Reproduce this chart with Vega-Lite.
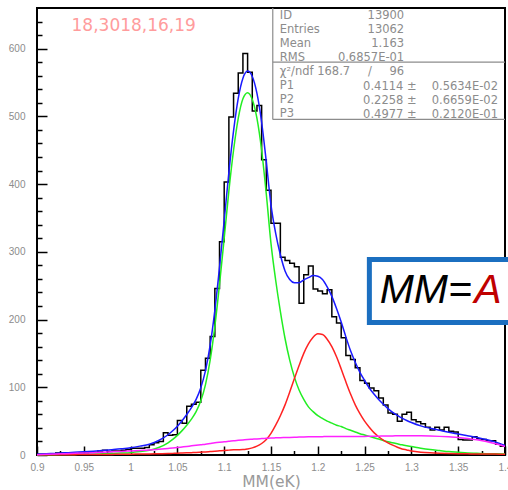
{
  "$schema": "https://vega.github.io/schema/vega-lite/v6.json",
  "width": 468,
  "height": 447,
  "autosize": {"type": "none"},
  "padding": {"left": 37, "top": 8, "right": 3, "bottom": 35},
  "background": "white",
  "config": {
    "view": {"stroke": "#000000", "strokeWidth": 2},
    "axis": {"grid": false, "domain": false, "tickColor": "#000000", "tickWidth": 1.5, "labelColor": "#8c8c8c", "labelFont": "Liberation Sans", "labelFontSize": 10, "labelOverlap": false, "labelFlush": false, "titleColor": "#9a9a9a", "titleFont": "DejaVu Sans", "titleFontWeight": "normal", "titleFontSize": 15.5}
  },
  "datasets": {
    "hist": [
      {"x": 0.9, "n": 1}, {"x": 0.905, "n": 1}, {"x": 0.91, "n": 0}, {"x": 0.915, "n": 2}, {"x": 0.92, "n": 3},
      {"x": 0.925, "n": 3}, {"x": 0.93, "n": 1}, {"x": 0.935, "n": 2}, {"x": 0.94, "n": 2}, {"x": 0.945, "n": 3},
      {"x": 0.95, "n": 3}, {"x": 0.955, "n": 4}, {"x": 0.96, "n": 4}, {"x": 0.965, "n": 6}, {"x": 0.97, "n": 7},
      {"x": 0.975, "n": 5}, {"x": 0.98, "n": 6}, {"x": 0.985, "n": 6}, {"x": 0.99, "n": 7}, {"x": 0.995, "n": 8},
      {"x": 1.0, "n": 10}, {"x": 1.005, "n": 10}, {"x": 1.01, "n": 10}, {"x": 1.015, "n": 11}, {"x": 1.02, "n": 15},
      {"x": 1.025, "n": 18}, {"x": 1.03, "n": 20}, {"x": 1.035, "n": 33}, {"x": 1.04, "n": 29}, {"x": 1.045, "n": 30},
      {"x": 1.05, "n": 51}, {"x": 1.055, "n": 47}, {"x": 1.06, "n": 72}, {"x": 1.065, "n": 75}, {"x": 1.07, "n": 78},
      {"x": 1.075, "n": 125}, {"x": 1.08, "n": 143}, {"x": 1.085, "n": 175}, {"x": 1.09, "n": 246}, {"x": 1.095, "n": 315},
      {"x": 1.1, "n": 403}, {"x": 1.105, "n": 499}, {"x": 1.11, "n": 534}, {"x": 1.115, "n": 564}, {"x": 1.12, "n": 593},
      {"x": 1.125, "n": 565}, {"x": 1.13, "n": 508}, {"x": 1.135, "n": 516}, {"x": 1.14, "n": 436}, {"x": 1.145, "n": 391},
      {"x": 1.15, "n": 342}, {"x": 1.155, "n": 342}, {"x": 1.16, "n": 292}, {"x": 1.165, "n": 287}, {"x": 1.17, "n": 283},
      {"x": 1.175, "n": 278}, {"x": 1.18, "n": 224}, {"x": 1.185, "n": 266}, {"x": 1.19, "n": 279}, {"x": 1.195, "n": 245},
      {"x": 1.2, "n": 242}, {"x": 1.205, "n": 238}, {"x": 1.21, "n": 244}, {"x": 1.215, "n": 204}, {"x": 1.22, "n": 195},
      {"x": 1.225, "n": 173}, {"x": 1.23, "n": 147}, {"x": 1.235, "n": 141}, {"x": 1.24, "n": 129}, {"x": 1.245, "n": 110},
      {"x": 1.25, "n": 106}, {"x": 1.255, "n": 99}, {"x": 1.26, "n": 95}, {"x": 1.265, "n": 84}, {"x": 1.27, "n": 74},
      {"x": 1.275, "n": 62}, {"x": 1.28, "n": 60}, {"x": 1.285, "n": 50}, {"x": 1.29, "n": 60}, {"x": 1.295, "n": 63},
      {"x": 1.3, "n": 52}, {"x": 1.305, "n": 49}, {"x": 1.31, "n": 46}, {"x": 1.315, "n": 41}, {"x": 1.32, "n": 37},
      {"x": 1.325, "n": 41}, {"x": 1.33, "n": 37}, {"x": 1.335, "n": 41}, {"x": 1.34, "n": 35}, {"x": 1.345, "n": 34},
      {"x": 1.35, "n": 23}, {"x": 1.355, "n": 22}, {"x": 1.36, "n": 22}, {"x": 1.365, "n": 27}, {"x": 1.37, "n": 24},
      {"x": 1.375, "n": 23}, {"x": 1.38, "n": 21}, {"x": 1.385, "n": 21}, {"x": 1.39, "n": 16}, {"x": 1.395, "n": 13},
      {"x": 1.4, "n": 13}
    ],
    "fit": [
      {"x": 0.90, "g": 0.3, "r": 0.3, "m": 0.5, "b": 1.1},
      {"x": 0.91, "g": 0.4, "r": 0.35, "m": 1, "b": 1.8},
      {"x": 0.92, "g": 0.5, "r": 0.4, "m": 1.5, "b": 2.4},
      {"x": 0.93, "g": 0.7, "r": 0.5, "m": 2, "b": 3.2},
      {"x": 0.94, "g": 0.9, "r": 0.55, "m": 2.5, "b": 4},
      {"x": 0.95, "g": 1.1, "r": 0.6, "m": 3, "b": 4.7},
      {"x": 0.96, "g": 1.4, "r": 0.7, "m": 3.5, "b": 5.6},
      {"x": 0.97, "g": 1.8, "r": 0.8, "m": 4, "b": 6.6},
      {"x": 0.98, "g": 2.2, "r": 0.9, "m": 4.7, "b": 7.8},
      {"x": 0.99, "g": 2.8, "r": 1, "m": 5.3, "b": 9.1},
      {"x": 1.00, "g": 3.5, "r": 1.2, "m": 6, "b": 10.7},
      {"x": 1.01, "g": 5, "r": 1.4, "m": 6.7, "b": 13.1},
      {"x": 1.02, "g": 7, "r": 1.6, "m": 7.4, "b": 16},
      {"x": 1.03, "g": 11, "r": 1.9, "m": 8.5, "b": 21.4},
      {"x": 1.04, "g": 18, "r": 2.2, "m": 9.7, "b": 29.9},
      {"x": 1.045, "g": 23, "r": 2.4, "m": 10.3, "b": 35.7},
      {"x": 1.05, "g": 29, "r": 2.6, "m": 11, "b": 42.6},
      {"x": 1.055, "g": 36, "r": 2.9, "m": 11.8, "b": 50.7},
      {"x": 1.06, "g": 44, "r": 3.2, "m": 12.6, "b": 59.8},
      {"x": 1.065, "g": 53, "r": 3.5, "m": 13.5, "b": 70},
      {"x": 1.07, "g": 64, "r": 3.8, "m": 14.3, "b": 82.1},
      {"x": 1.075, "g": 80, "r": 4.2, "m": 15.2, "b": 99.4},
      {"x": 1.08, "g": 104, "r": 4.6, "m": 16, "b": 124.6},
      {"x": 1.085, "g": 140, "r": 5.1, "m": 17, "b": 162.1},
      {"x": 1.09, "g": 190, "r": 5.6, "m": 18, "b": 213.6},
      {"x": 1.095, "g": 252, "r": 6.2, "m": 18.8, "b": 277},
      {"x": 1.10, "g": 320, "r": 6.8, "m": 19.5, "b": 346.3},
      {"x": 1.105, "g": 390, "r": 7.2, "m": 20.2, "b": 417.4},
      {"x": 1.11, "g": 450, "r": 7.6, "m": 21, "b": 478.6},
      {"x": 1.115, "g": 497, "r": 7.8, "m": 21.6, "b": 526.4},
      {"x": 1.12, "g": 526, "r": 8, "m": 22.2, "b": 556.2},
      {"x": 1.125, "g": 535, "r": 9, "m": 22.8, "b": 566.8},
      {"x": 1.13, "g": 525, "r": 10.5, "m": 23.3, "b": 558.8},
      {"x": 1.135, "g": 497, "r": 13, "m": 23.8, "b": 533.8},
      {"x": 1.14, "g": 450, "r": 17, "m": 24.2, "b": 491.2},
      {"x": 1.145, "g": 385, "r": 23, "m": 24.6, "b": 432.6},
      {"x": 1.15, "g": 312, "r": 32, "m": 25, "b": 369},
      {"x": 1.155, "g": 258, "r": 44, "m": 25.3, "b": 327.3},
      {"x": 1.16, "g": 212, "r": 58, "m": 25.6, "b": 295.6},
      {"x": 1.165, "g": 172, "r": 74, "m": 25.8, "b": 271.8},
      {"x": 1.17, "g": 140, "r": 93, "m": 26, "b": 259},
      {"x": 1.175, "g": 115, "r": 113, "m": 26.2, "b": 254.2},
      {"x": 1.18, "g": 96, "r": 132, "m": 26.4, "b": 254.4},
      {"x": 1.185, "g": 82, "r": 150, "m": 26.6, "b": 258.6},
      {"x": 1.19, "g": 71, "r": 164, "m": 26.8, "b": 261.8},
      {"x": 1.195, "g": 64, "r": 174, "m": 27, "b": 265},
      {"x": 1.20, "g": 58, "r": 179, "m": 27, "b": 264},
      {"x": 1.205, "g": 54, "r": 178, "m": 27.1, "b": 259.1},
      {"x": 1.21, "g": 50, "r": 171, "m": 27.2, "b": 248.2},
      {"x": 1.215, "g": 47, "r": 160, "m": 27.2, "b": 234.2},
      {"x": 1.22, "g": 44, "r": 145, "m": 27.3, "b": 216.3},
      {"x": 1.225, "g": 42, "r": 127, "m": 27.3, "b": 196.3},
      {"x": 1.23, "g": 39, "r": 108, "m": 27.4, "b": 174.4},
      {"x": 1.235, "g": 36.5, "r": 90, "m": 27.4, "b": 153.9},
      {"x": 1.24, "g": 34, "r": 74, "m": 27.5, "b": 137},
      {"x": 1.245, "g": 31.5, "r": 61, "m": 27.5, "b": 122},
      {"x": 1.25, "g": 29.5, "r": 50, "m": 27.5, "b": 110},
      {"x": 1.255, "g": 27.5, "r": 41, "m": 27.6, "b": 99},
      {"x": 1.26, "g": 25.5, "r": 33, "m": 27.7, "b": 90},
      {"x": 1.265, "g": 23.5, "r": 27, "m": 27.8, "b": 82},
      {"x": 1.27, "g": 21.5, "r": 22, "m": 28, "b": 75},
      {"x": 1.275, "g": 19.5, "r": 18, "m": 28.1, "b": 68.5},
      {"x": 1.28, "g": 18, "r": 14.5, "m": 28.2, "b": 63},
      {"x": 1.285, "g": 16.5, "r": 11.5, "m": 28.3, "b": 58.5},
      {"x": 1.29, "g": 15, "r": 9, "m": 28.4, "b": 54.5},
      {"x": 1.295, "g": 13.7, "r": 7.5, "m": 28.5, "b": 51},
      {"x": 1.30, "g": 12.5, "r": 6, "m": 28.5, "b": 48},
      {"x": 1.31, "g": 10, "r": 4.2, "m": 28.3, "b": 43},
      {"x": 1.32, "g": 8, "r": 3.2, "m": 28, "b": 39.5},
      {"x": 1.33, "g": 6.5, "r": 2.6, "m": 27.5, "b": 36.5},
      {"x": 1.34, "g": 5, "r": 2.2, "m": 26.8, "b": 33.5},
      {"x": 1.35, "g": 4, "r": 1.9, "m": 26, "b": 31},
      {"x": 1.36, "g": 3, "r": 1.7, "m": 24.5, "b": 28.5},
      {"x": 1.37, "g": 2.5, "r": 1.5, "m": 22.5, "b": 26},
      {"x": 1.38, "g": 2, "r": 1.4, "m": 20, "b": 23},
      {"x": 1.39, "g": 1.7, "r": 1.3, "m": 16.5, "b": 19},
      {"x": 1.40, "g": 1.5, "r": 1.2, "m": 12.5, "b": 14}
    ]
  },
  "layer": [
    {
      "data": {"name": "hist"},
      "mark": {"type": "line", "interpolate": "step-after", "color": "#000000", "strokeWidth": 1.5},
      "encoding": {
        "x": {"field": "x", "type": "quantitative", "scale": {"domain": [0.9, 1.4], "nice": false, "zero": false},
          "axis": {"orient": "bottom", "values": [0.9, 0.95, 1.0, 1.05, 1.1, 1.15, 1.2, 1.25, 1.3, 1.35, 1.4], "tickSize": -9, "labelPadding": 16, "format": "~g", "title": "MM(eK)", "titlePadding": 2}},
        "y": {"field": "n", "type": "quantitative", "scale": {"domain": [0, 660], "nice": false, "zero": true},
          "axis": {"orient": "left", "values": [0, 100, 200, 300, 400, 500, 600], "tickSize": -10, "labelPadding": 22, "title": null}}
      }
    },
    {
      "data": {"name": "fit"},
      "mark": {"type": "line", "interpolate": "monotone", "color": "#1a1aff", "strokeWidth": 1.5},
      "encoding": {
        "x": {"field": "x", "type": "quantitative",
          "axis": {"orient": "bottom", "values": [0.925, 0.975, 1.025, 1.075, 1.125, 1.175, 1.225, 1.275, 1.325, 1.375], "tickSize": -4.5, "labels": false, "title": null}},
        "y": {"field": "b", "type": "quantitative",
          "axis": {"orient": "left", "values": [20, 40, 60, 80, 120, 140, 160, 180, 220, 240, 260, 280, 320, 340, 360, 380, 420, 440, 460, 480, 520, 540, 560, 580, 620, 640], "tickSize": -5, "labels": false, "title": null}}
      }
    },
    {
      "data": {"name": "fit"},
      "mark": {"type": "line", "interpolate": "monotone", "color": "#22ee22", "strokeWidth": 1.5},
      "encoding": {
        "x": {"field": "x", "type": "quantitative", "axis": null},
        "y": {"field": "g", "type": "quantitative", "axis": null}
      }
    },
    {
      "data": {"name": "fit"},
      "mark": {"type": "line", "interpolate": "monotone", "color": "#ff2222", "strokeWidth": 1.5},
      "encoding": {
        "x": {"field": "x", "type": "quantitative", "axis": null},
        "y": {"field": "r", "type": "quantitative", "axis": null}
      }
    },
    {
      "data": {"name": "fit"},
      "mark": {"type": "line", "interpolate": "monotone", "color": "#ff22ff", "strokeWidth": 1.5},
      "encoding": {
        "x": {"field": "x", "type": "quantitative", "axis": null},
        "y": {"field": "m", "type": "quantitative", "axis": null}
      }
    },
    {
      "data": {"values": [{}]},
      "mark": {"type": "rect", "fill": "#ffffff"},
      "encoding": {
        "x": {"datum": 1.1519, "type": "quantitative", "axis": null},
        "x2": {"datum": 1.3989},
        "y": {"datum": 495.5, "type": "quantitative", "axis": null},
        "y2": {"datum": 658.5}
      }
    },
    {
      "data": {"values": [{}]},
      "mark": {"type": "rule", "color": "#8c8c8c", "strokeWidth": 1.2},
      "encoding": {
        "x": {"datum": 1.1519, "type": "quantitative", "axis": null},
        "y": {"datum": 495.5, "type": "quantitative", "axis": null},
        "y2": {"datum": 660}
      }
    },
    {
      "data": {"values": [{}]},
      "mark": {"type": "rule", "color": "#8c8c8c", "strokeWidth": 1.2},
      "encoding": {
        "x": {"datum": 1.1519, "type": "quantitative", "axis": null},
        "x2": {"datum": 1.4},
        "y": {"datum": 495.5, "type": "quantitative", "axis": null}
      }
    },
    {
      "data": {"values": [{}]},
      "mark": {"type": "rule", "color": "#8c8c8c", "strokeWidth": 1.2},
      "encoding": {
        "x": {"datum": 1.1519, "type": "quantitative", "axis": null},
        "x2": {"datum": 1.4},
        "y": {"datum": 580, "type": "quantitative", "axis": null}
      }
    },
    {
      "data": {"values": [{}]},
      "mark": {"type": "text", "text": ["ID", "Entries", "Mean", "RMS", "χ²/ndf 168.7", "P1", "P2", "P3"], "align": "left", "baseline": "alphabetic", "lineHeight": 14, "font": "DejaVu Sans", "fontSize": 11.5, "color": "#8c8c8c"},
      "encoding": {
        "x": {"datum": 1.1594, "type": "quantitative", "axis": null},
        "y": {"datum": 643.4, "type": "quantitative", "axis": null}
      }
    },
    {
      "data": {"values": [{}]},
      "mark": {"type": "text", "text": ["13900", "13062", "1.163", "0.6857E-01", "96"], "align": "right", "baseline": "alphabetic", "lineHeight": 14, "font": "DejaVu Sans", "fontSize": 11.5, "color": "#8c8c8c"},
      "encoding": {
        "x": {"datum": 1.2923, "type": "quantitative", "axis": null},
        "y": {"datum": 643.4, "type": "quantitative", "axis": null}
      }
    },
    {
      "data": {"values": [{}]},
      "mark": {"type": "text", "text": "/", "align": "center", "baseline": "alphabetic", "font": "DejaVu Sans", "fontSize": 11.5, "color": "#8c8c8c"},
      "encoding": {
        "x": {"datum": 1.2556, "type": "quantitative", "axis": null},
        "y": {"datum": 561.3, "type": "quantitative", "axis": null}
      }
    },
    {
      "data": {"values": [{}]},
      "mark": {"type": "text", "text": ["0.4114 ±", "0.2258 ±", "0.4977 ±"], "align": "right", "baseline": "alphabetic", "lineHeight": 14, "font": "DejaVu Sans", "fontSize": 11.5, "color": "#8c8c8c"},
      "encoding": {
        "x": {"datum": 1.3056, "type": "quantitative", "axis": null},
        "y": {"datum": 539.1, "type": "quantitative", "axis": null}
      }
    },
    {
      "data": {"values": [{}]},
      "mark": {"type": "text", "text": ["0.5634E-02", "0.6659E-02", "0.2120E-01"], "align": "right", "baseline": "alphabetic", "lineHeight": 14, "font": "DejaVu Sans", "fontSize": 11.5, "color": "#8c8c8c"},
      "encoding": {
        "x": {"datum": 1.3925, "type": "quantitative", "axis": null},
        "y": {"datum": 539.1, "type": "quantitative", "axis": null}
      }
    },
    {
      "data": {"values": [{}]},
      "mark": {"type": "text", "text": "18,3018,16,19", "align": "left", "baseline": "alphabetic", "font": "DejaVu Sans", "fontSize": 17, "color": "#ff9c9c"},
      "encoding": {
        "x": {"datum": 0.9369, "type": "quantitative", "axis": null},
        "y": {"datum": 626, "type": "quantitative", "axis": null}
      }
    },
    {
      "data": {"values": [{}]},
      "mark": {"type": "rect", "fill": "#ffffff", "stroke": "#1b6fc0", "strokeWidth": 5},
      "encoding": {
        "x": {"datum": 1.2551, "type": "quantitative", "axis": null},
        "x2": {"datum": 1.45},
        "y": {"datum": 195.6, "type": "quantitative", "axis": null},
        "y2": {"datum": 288.6}
      }
    },
    {
      "data": {"values": [{}]},
      "mark": {"type": "text", "text": "MM=", "align": "right", "baseline": "alphabetic", "font": "Liberation Sans Narrow, Liberation Sans, sans-serif", "fontStyle": "italic", "fontSize": 41, "color": "#000000"},
      "encoding": {
        "x": {"datum": 1.3647, "type": "quantitative", "axis": null},
        "y": {"datum": 224.4, "type": "quantitative", "axis": null}
      }
    },
    {
      "data": {"values": [{}]},
      "mark": {"type": "text", "text": "A", "align": "left", "baseline": "alphabetic", "font": "Liberation Sans Narrow, Liberation Sans, sans-serif", "fontStyle": "italic", "fontSize": 41, "color": "#c00000"},
      "encoding": {
        "x": {"datum": 1.3671, "type": "quantitative", "axis": null},
        "y": {"datum": 224.4, "type": "quantitative", "axis": null}
      }
    }
  ],
  "resolve": {"axis": {"x": "independent", "y": "independent"}}
}
